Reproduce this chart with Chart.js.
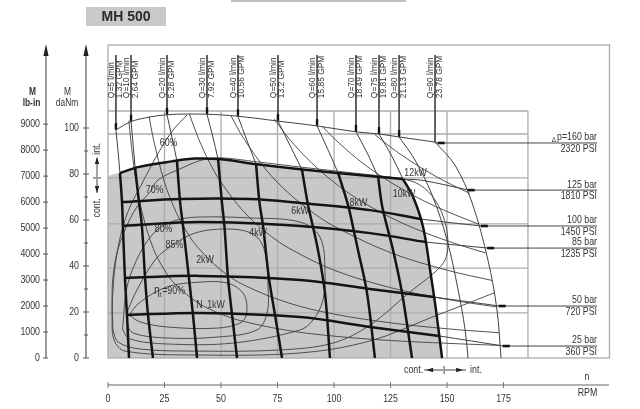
<!DOCTYPE html>
<html>
<head>
<meta charset="utf-8">
<title>MH 500</title>
<script src="https://cdn.jsdelivr.net/npm/chart.js@4/dist/chart.umd.min.js"></script>
<style>
html,body{margin:0;padding:0;background:#fff;overflow:hidden}
canvas{display:block}
</style>
</head>
<body>
<canvas id="chart" width="640" height="409"></canvas>
<script>
// ---------------- DATA (RPM, daNm) ----------------
const RPM_TICKS = [0, 25, 50, 75, 100, 125, 150, 175];
const DANM_MAJOR = [0, 20, 40, 60, 80, 100];
const DANM_MINOR = [10, 30, 50, 70, 90];
const LBIN_TICKS = [0, 1000, 2000, 3000, 4000, 5000, 6000, 7000, 8000, 9000];
const LBIN_PER_DANM = 88.507;

const GRID_RPM = [25, 50, 75, 100, 125, 150, 185.8];
const GRID_DANM = [19.6, 39.1, 58.3, 78.3, 97.4, 107.4];

// continuous operating region (shaded)
const SHADED_REGION = [[0,0],[0,78.3],[5.3,80.4],[13.3,83.0],[28.3,85.5],[38.5,86.7],[50.4,86.4],[65,84.4],[87.2,81.9],[120.4,78.7],[130.5,77.8],[135,70],[139.4,57],[142.5,38.3],[145.1,20.9],[147.8,0]];

// pressure lines
const P160 = [[3.5,99.2],[10.2,102.8],[18.6,104.8],[25.2,105.7],[35.4,106.1],[50.4,105.7],[65,104.3],[75.2,103.0],[87.2,101.6],[92.5,100.9],[110.2,98.3],[119.9,97.4],[128.8,96.1],[144.7,93.9]];
const P125_CONT = [[5.3,80.4],[13.3,83.0],[28.3,85.5],[38.5,86.7],[50.4,86.4],[65,84.4],[87.2,81.9],[120.4,78.7],[130.5,77.8]];
const P125_INT = [[130.5,77.8],[139.4,77.2],[159.5,73.0]];
const P100_CONT = [[6.2,67.8],[31.9,69.1],[62.8,69.1],[85.0,67.4],[115.9,64.3],[138.5,60.4]];
const P100_INT = [[138.5,60.4],[152,58.8],[165.3,57.4]];
const P85_CONT = [[6.6,57.4],[40.7,59.1],[85.0,57.4],[115.9,54.3],[140.5,50.4]];
const P85_INT = [[140.5,50.4],[168.1,47.8]];
const P50_CONT = [[7.5,34.8],[40.7,35.7],[85.0,33.9],[115.9,30.0],[144.2,26.5]];
const P50_INT = [[144.2,26.5],[173.2,22.6]];
const P25_CONT = [[8.4,18.7],[40.7,19.6],[85.0,17.8],[115.9,13.5],[146.5,9.6]];
const P25_INT = [[146.5,9.6],[175.0,5.2]];

// flow lines
const Q5_CONT = [[9.3,0],[8.4,18.7],[7.5,34.8],[6.6,57.4],[6.2,67.8],[5.3,80.4]];
const Q5_INT = [[5.3,80.4],[4.4,90.4],[3.5,99.2]];
const Q10_CONT = [[19.9,0],[17.7,18.7],[16.4,34.8],[15.0,57.4],[13.7,67.8],[12.0,82.6]];
const Q10_INT = [[12.0,82.6],[11.1,93.0],[10.2,102.8]];
const Q20_CONT = [[39.4,0],[37.6,18.7],[35.8,34.8],[33.2,57.4],[31.9,67.8],[30.5,85.7]];
const Q20_INT = [[30.5,85.7],[28.3,96.0],[26.1,105.8]];
const Q30_CONT = [[57.1,0],[54.9,18.7],[53.1,34.8],[51.5,57.4],[50.4,67.8],[48.7,86.5]];
const Q30_INT = [[48.7,86.5],[46.3,96.5],[43.8,106.0]];
const Q40_CONT = [[77.0,0],[73.9,18.7],[71.2,34.8],[68.6,57.4],[67.0,67.8],[65.5,84.3]];
const Q40_INT = [[65.5,84.3],[61.5,94.5],[57.5,105.1]];
const Q50_CONT = [[98.2,0],[96.0,28.3],[92.9,47.0],[90.7,57.0],[88.5,66.5],[85.8,82.0]];
const Q50_INT = [[85.8,82.0],[80.5,92.5],[75.2,103.0]];
const Q60_CONT = [[118.1,0],[114.6,28.3],[110.6,47.0],[108.4,57.0],[106.2,66.5],[101.8,80.5]];
const Q60_INT = [[101.8,80.5],[97.3,90.6],[92.5,100.9]];
const Q70_CONT = [[134.5,0],[130.1,28.3],[126.1,47.0],[123.5,57.0],[121.2,66.5],[119.5,78.8]];
const Q70_INT = [[119.5,78.8],[115.0,88.5],[109.7,98.4]];
const Q75_CONT = [[147.8,0],[145.1,20.9],[142.5,38.3],[139.4,57.0],[135.0,70.0],[130.5,77.8]];
const Q75_INT = [[130.5,77.8],[125.7,87.5],[119.9,97.4]];
const Q80_INT = [[128.8,96.1],[135.8,86.1],[143.4,70.9],[150.0,51.3],[154.9,29.6],[158.0,12.2],[159.3,0]];
const Q90_INT = [[144.7,93.9],[153.5,83.9],[161.1,67.4],[168.1,42.6],[172.1,20.9],[173.9,0]];

// efficiency contours
const EFF90 = [[9.3,18.7],[14.2,24.3],[26.1,30.9],[40.7,33.0],[52.7,32.6],[59.7,28.3],[61.5,20.9],[59.3,15.7],[48.2,13.0],[26.1,13.5],[14.2,15.7],[9.3,18.7]];
const EFF85 = [[8.8,20.9],[12.8,29.6],[20.8,42.6],[27.4,48.3],[36.3,53.5],[45.1,55.7],[58.4,55.7],[65.9,52.6],[69.5,45.7],[70.8,30.9],[70.4,19.6],[65.9,12.2],[48.2,9.1],[26.1,8.7],[11.1,10.9],[8.4,15.2],[8.8,20.9]];
const EFF80 = [[6.6,14.3],[8.4,30.9],[14.2,45.7],[21.7,55.7],[30.5,60.0],[40.7,61.3],[62.8,60.9],[85.0,59.1],[93.8,52.6],[96.0,38.3],[95.1,25.2],[90.7,16.5],[85.0,12.2],[55.3,6.5],[26.1,6.1],[9.7,8.3],[6.6,12.2],[6.6,14.3]];
const EFF70 = [[2.2,12.2],[1.8,25.2],[2.2,35.2],[4.0,45.7],[7.5,55.7],[12.8,65.7],[18.6,72.2],[22.1,77.4],[32.7,82.6],[41.6,86.1],[50.4,87.0],[65.0,85.4],[87.2,82.8],[107.1,80.6],[130.5,77.8],[138.1,75.2],[144.7,68.7],[149.1,59.1],[150.4,49.1],[149.1,42.6],[144.7,37.4],[133.6,28.7],[115.9,14.3],[99.6,6.5],[76.1,3.5],[40.7,3.0],[14.2,3.9],[4.4,7.0],[2.2,12.2]];
const EFF60 = [[35.0,105.7],[28.8,99.1],[23.0,90.4],[18.6,82.6],[14.2,74.3],[9.7,65.7],[6.2,55.7],[3.5,42.6],[2.2,29.6],[1.8,16.5],[2.7,7.8],[7.5,3.0],[40.7,1.3],[85.0,2.2],[115.9,7.4],[142.5,17.4],[170.8,28.3]];

// power lines
const KW1 = [[9.25,103.2],[10,95.5],[12,79.6],[15,63.7],[20,47.7],[25,38.2],[30,31.8],[40,23.9],[50,19.1],[60,15.9],[80,11.9],[100,9.5],[125,7.6],[150,6.4],[173,5.5]];
const KW2 = [[18.2,105.0],[20,95.5],[25,76.4],[30,63.7],[35,54.6],[40,47.8],[50,38.2],[60,31.8],[80,23.9],[100,19.1],[125,15.3],[150,12.7],[173,11.0]];
const KW4 = [[36,106.1],[40,95.5],[45,84.9],[50,76.4],[60,63.7],[70,54.6],[80,47.8],[100,38.2],[125,30.6],[150,25.5],[172,22.2]];
const KW6 = [[54.3,105.5],[60,95.5],[70,81.8],[80,71.6],[90,63.7],[100,57.3],[125,45.8],[150,38.2],[170,33.7]];
const KW8 = [[73.5,104.0],[80,95.5],[90,84.9],[100,76.4],[110,69.4],[125,61.1],[140,54.6],[155,49.3],[167,45.7]];
const KW10 = [[95,100.5],[100,95.5],[110,86.8],[120,79.6],[130,73.5],[140,68.2],[150,63.7],[164,58.2]];
const KW12 = [[118,97.2],[125,91.7],[135,84.9],[145,79.0],[152,75.4],[160,71.6]];

// flow labels (leaders)
const FLOW_NAMES = ['Q=5 l/min','Q=10 l/min','Q=20 l/min','Q=30 l/min','Q=40 l/min','Q=50 l/min','Q=60 l/min','Q=70 l/min','Q=75 l/min','Q=80 l/min','Q=90 l/min'];
const FLOW_GPM = ['1.32 GPM','2.64 GPM','5.28 GPM','7.92 GPM','10.56 GPM','13.2 GPM','15.85 GPM','18.49 GPM','19.81 GPM','21.13 GPM','23.78 GPM'];
const FLOW_LEADER_RPM = [3.5, 10.2, 26.1, 43.8, 57.5, 75.2, 92.5, 109.7, 119.9, 128.8, 144.7];
const FLOW_ARROW_DANM = [99.2, 102.8, 105.8, 106.0, 105.1, 103.0, 100.9, 98.4, 97.4, 96.1, 93.5];
const LEADER_TOP_DANM = 131.7;
const LABEL_BASE_DANM = 113.0;

// pressure labels (right)
const PRESS_BAR = ['p=160 bar','125 bar','100 bar','85 bar','50 bar','25 bar'];
const PRESS_PSI = ['2320 PSI','1810 PSI','1450 PSI','1235 PSI','720 PSI','360 PSI'];
const PRESS_LEVEL_DANM = [93.5, 73.0, 57.4, 47.8, 22.6, 5.2];
const PRESS_ARROW_RPM = [146.2, 159.5, 165.3, 168.1, 173.2, 175.0];
const PRESS_LABEL_END_RPM = 216.4;

// curve labels
const CURVE_LABELS = ['60%','70%','80%','85%','N','1kW','2kW','4kW','6kW','8kW','10kW','12kW'];
const CURVE_LABEL_POS = [[26.8,93.3],[20.6,72.8],[24.6,55.9],[29.4,49.1],[40.5,23.0],[47.8,23.0],[42.9,42.4],[66.4,54.3],[85,63.9],[110.8,67.2],[131.0,71.3],[136.1,80.2]];
const ETA_LABEL_POS = [20.4, 29.1];

// ---------------- STYLE ----------------
const FONT = '"Liberation Sans", Arial, Helvetica, sans-serif';
const THICK = '#141414', THIN = '#404040', GRIDC = '#acacac', TXT = '#333';
const CONDENSE = 0.84;

const pts = a => a.map(p => ({x: p[0], y: p[1]}));
function thick(a) { return {data: pts(a), showLine: true, borderColor: THICK, borderWidth: 2.5, pointRadius: 0, tension: 0.35, fill: false, order: 10}; }
function thin(a, w) { return {data: pts(a), showLine: true, borderColor: THIN, borderWidth: w || 0.9, pointRadius: 0, tension: 0.35, fill: false, order: 50}; }
function straight(a, w) { return {data: pts(a), showLine: true, borderColor: '#444', borderWidth: w || 1, pointRadius: 0, tension: 0, fill: false, order: 40}; }

const datasets = [];
datasets.push({data: pts(SHADED_REGION), showLine: true, fill: 'origin', backgroundColor: '#c8c8c8', borderColor: 'rgba(0,0,0,0)', borderWidth: 0, pointRadius: 0, tension: 0.3, order: 100});
const SHADE_INDEX = 0;

[EFF90, EFF85, EFF80, EFF70, EFF60].forEach(a => datasets.push(thin(a)));
[KW1, KW2, KW4, KW6, KW8, KW10, KW12].forEach(a => datasets.push(thin(a)));
[P160, P125_INT, P100_INT, P85_INT, P50_INT, P25_INT].forEach(a => datasets.push(thin(a, 1)));
[Q5_INT, Q10_INT, Q20_INT, Q30_INT, Q40_INT, Q50_INT, Q60_INT, Q70_INT, Q75_INT, Q80_INT, Q90_INT].forEach(a => datasets.push(thin(a, 1)));
[P125_CONT, P100_CONT, P85_CONT, P50_CONT, P25_CONT].forEach(a => datasets.push(thick(a)));
[Q5_CONT, Q10_CONT, Q20_CONT, Q30_CONT, Q40_CONT, Q50_CONT, Q60_CONT, Q70_CONT, Q75_CONT].forEach(a => datasets.push(thick(a)));

// leaders of flow labels
FLOW_LEADER_RPM.forEach((r, i) => datasets.push(straight([[r, LEADER_TOP_DANM], [r, FLOW_ARROW_DANM[i]]], 0.9)));
// pressure label lines
PRESS_LEVEL_DANM.forEach((m, i) => datasets.push(straight([[PRESS_ARROW_RPM[i] - (i === 0 ? 1.5 : 0), m], [PRESS_LABEL_END_RPM, m]], 1)));
// arrow marks on flow leaders
datasets.push({data: FLOW_LEADER_RPM.slice(0, 10).map((r, i) => ({x: r, y: FLOW_ARROW_DANM[i] + 1.6})), showLine: false, pointStyle: 'line', pointRadius: 3.2, pointBorderWidth: 2.4, pointRotation: 90, borderColor: THICK, backgroundColor: THICK, order: 5});
// arrow marks on pressure lines
datasets.push({data: PRESS_ARROW_RPM.map((r, i) => ({x: r + 1.2, y: PRESS_LEVEL_DANM[i]})), showLine: false, pointStyle: 'line', pointRadius: 3.5, pointBorderWidth: 2.6, pointRotation: 0, borderColor: THICK, backgroundColor: THICK, order: 5});

// ---------------- DRAW HELPERS ----------------
function txt(ctx, s, x, y, o) {
  o = o || {};
  const sx = o.sx !== undefined ? o.sx : CONDENSE;
  ctx.save();
  ctx.translate(x, y);
  if (o.rot) ctx.rotate(o.rot);
  ctx.scale(sx, 1);
  ctx.font = (o.bold ? 'bold ' : '') + (o.size || 10.5) + 'px ' + FONT;
  ctx.fillStyle = o.color || TXT;
  ctx.textAlign = o.align || 'center';
  ctx.textBaseline = o.base || 'middle';
  ctx.fillText(s, 0, 0);
  const w = ctx.measureText(s).width * sx;
  ctx.restore();
  return w;
}
function tri(ctx, x, y, dir, len, half) {
  ctx.beginPath();
  ctx.moveTo(x, y);
  if (dir === 'left') { ctx.lineTo(x + len, y - half); ctx.lineTo(x + len, y + half); }
  if (dir === 'right') { ctx.lineTo(x - len, y - half); ctx.lineTo(x - len, y + half); }
  if (dir === 'up') { ctx.lineTo(x - half, y + len); ctx.lineTo(x + half, y + len); }
  if (dir === 'down') { ctx.lineTo(x - half, y - len); ctx.lineTo(x + half, y - len); }
  ctx.closePath();
  ctx.fill();
}
function seg(ctx, x1, y1, x2, y2, c, w) {
  ctx.beginPath(); ctx.strokeStyle = c; ctx.lineWidth = w; ctx.moveTo(x1, y1); ctx.lineTo(x2, y2); ctx.stroke();
}

const gridPlugin = {
  id: 'gridFrame',
  afterDatasetDraw(chart, args) {
    if (args.index !== SHADE_INDEX) return;
    const ctx = chart.ctx, X = v => chart.scales.x.getPixelForValue(v), Y = v => chart.scales.y.getPixelForValue(v);
    ctx.save();
    const gx = GRID_RPM[GRID_RPM.length - 1], gy = GRID_DANM[GRID_DANM.length - 1];
    GRID_RPM.forEach(r => seg(ctx, X(r), Y(0), X(r), Y(gy), GRIDC, 1.3));
    GRID_DANM.forEach(m => seg(ctx, X(0), Y(m), X(gx), Y(m), GRIDC, 1.3));
    ctx.strokeStyle = GRIDC; ctx.lineWidth = 1.3;
    ctx.strokeRect(X(0), chart.chartArea.top, X(222.1) - X(0) - 0.5, Y(0) - chart.chartArea.top);
    ctx.restore();
  }
};

const annotPlugin = {
  id: 'annot',
  afterDraw(chart) {
    const ctx = chart.ctx, X = v => chart.scales.x.getPixelForValue(v), Y = v => chart.scales.y.getPixelForValue(v);
    ctx.save();
    // top decorations
    ctx.fillStyle = '#c0c0c0'; ctx.fillRect(231, 0, 175, 2);
    ctx.fillStyle = '#c9c9c9'; ctx.fillRect(86, 7, 80, 19);
    txt(ctx, 'MH 500', 126, 17, {size: 14, bold: true, sx: 1, color: '#2a2a2a'});

    // left axes
    const AX1 = 46, AX2 = 86, AXC = '#555';
    seg(ctx, AX1, Y(0), AX1, 50, AXC, 1.2);
    seg(ctx, AX2, Y(0), AX2, 50, AXC, 1.2);
    ctx.fillStyle = '#222';
    tri(ctx, AX1, 44, 'up', 12, 2.6);
    tri(ctx, AX2, 44, 'up', 12, 2.6);
    LBIN_TICKS.forEach(v => {
      const y = Y(v / LBIN_PER_DANM);
      seg(ctx, AX1 - 3, y, AX1 + 2, y, AXC, 1);
      txt(ctx, String(v), 40, y, {align: 'right'});
    });
    DANM_MAJOR.forEach(v => {
      const y = Y(v);
      seg(ctx, AX2 - 3, y, AX2 + 3, y, AXC, 1);
      txt(ctx, String(v), 79, y, {align: 'right'});
    });
    DANM_MINOR.forEach(v => { const y = Y(v); seg(ctx, AX2 - 2, y, AX2 + 2, y, AXC, 1); });
    txt(ctx, 'M', 32.5, 92.5, {bold: true, size: 10});
    txt(ctx, 'lb-in', 31.5, 103, {bold: true, size: 10});
    txt(ctx, 'M', 67.5, 92.5, {size: 10});
    txt(ctx, 'daNm', 67, 103, {size: 10});

    // bottom axis
    const BY = 385;
    seg(ctx, X(0), BY, X(222.1) - 1, BY, '#999', 1.4);
    RPM_TICKS.forEach(v => {
      seg(ctx, X(v), BY - 3, X(v), BY + 3, '#777', 1);
      txt(ctx, String(v), X(v), 399.5);
    });
    txt(ctx, 'n', 587, 377);
    txt(ctx, 'RPM', 587.5, 393.5);

    // cont./int. annotations
    ctx.fillStyle = '#222';
    const cx = X(148.7), cy = 370;
    txt(ctx, 'cont.', cx - 21, cy, {align: 'right'});
    seg(ctx, cx - 20, cy, cx - 1, cy, '#444', 1);
    tri(ctx, cx - 18, cy, 'left', 7, 2.2);
    seg(ctx, cx, cy - 4, cx, cy + 4, '#444', 1);
    seg(ctx, cx + 1, cy, cx + 22, cy, '#444', 1);
    tri(ctx, cx + 19, cy, 'right', 7, 2.2);
    txt(ctx, 'int.', cx + 26, cy, {align: 'left'});

    const vx = 97, vy = Y(78.3);
    txt(ctx, 'int.', vx, vy - 29, {rot: -Math.PI / 2});
    seg(ctx, vx, vy - 1, vx, vy - 20, '#444', 1);
    tri(ctx, vx, vy - 21, 'up', 7, 2.2);
    seg(ctx, vx - 4, vy, vx + 4, vy, '#444', 1);
    seg(ctx, vx, vy + 1, vx, vy + 15, '#444', 1);
    tri(ctx, vx, vy + 15, 'down', 7, 2.2);
    txt(ctx, 'cont.', vx, vy + 30, {rot: -Math.PI / 2});

    // flow labels (rotated)
    FLOW_LEADER_RPM.forEach((r, i) => {
      const x = X(r), y = Y(LABEL_BASE_DANM);
      txt(ctx, FLOW_NAMES[i], x - 4.5, y, {rot: -Math.PI / 2, align: 'left', size: 8.4, sx: 1});
      txt(ctx, FLOW_GPM[i], x + 4.2, y, {rot: -Math.PI / 2, align: 'left', size: 8.4, sx: 1});
    });

    // pressure labels (right)
    PRESS_LEVEL_DANM.forEach((m, i) => {
      const y = Y(m);
      const w = txt(ctx, PRESS_BAR[i], 597, y - 5.5, {align: 'right'});
      if (i === 0) txt(ctx, '\u0394', 597 - w - 1, y - 3.5, {align: 'right', size: 7.5});
      txt(ctx, PRESS_PSI[i], 597, y + 6, {align: 'right'});
    });

    // curve labels
    CURVE_LABELS.forEach((s, i) => {
      txt(ctx, s, X(CURVE_LABEL_POS[i][0]), Y(CURVE_LABEL_POS[i][1]), {size: 10.5});
    });
    // eta_t = 90%
    let ex = X(ETA_LABEL_POS[0]), ey = Y(ETA_LABEL_POS[1]);
    ex += txt(ctx, '\u03B7', ex, ey - 0.5, {align: 'left', size: 12.5});
    ex += txt(ctx, 't', ex, ey + 3.5, {align: 'left', size: 7.5}) + 0.5;
    txt(ctx, '=90%', ex, ey, {align: 'left', size: 10.5});
    ctx.restore();
  }
};

new Chart(document.getElementById('chart').getContext('2d'), {
  type: 'scatter',
  data: {datasets: datasets},
  options: {
    responsive: false,
    animation: false,
    devicePixelRatio: 1,
    events: [],
    layout: {padding: {left: 108, right: 30, top: 45, bottom: 24}},
    plugins: {legend: {display: false}, tooltip: {enabled: false}, title: {display: false}},
    scales: {
      x: {type: 'linear', min: 0, max: 222.1, display: false},
      y: {type: 'linear', min: -11.74, max: 136.1, display: false}
    }
  },
  plugins: [gridPlugin, annotPlugin]
});
</script>
</body>
</html>
